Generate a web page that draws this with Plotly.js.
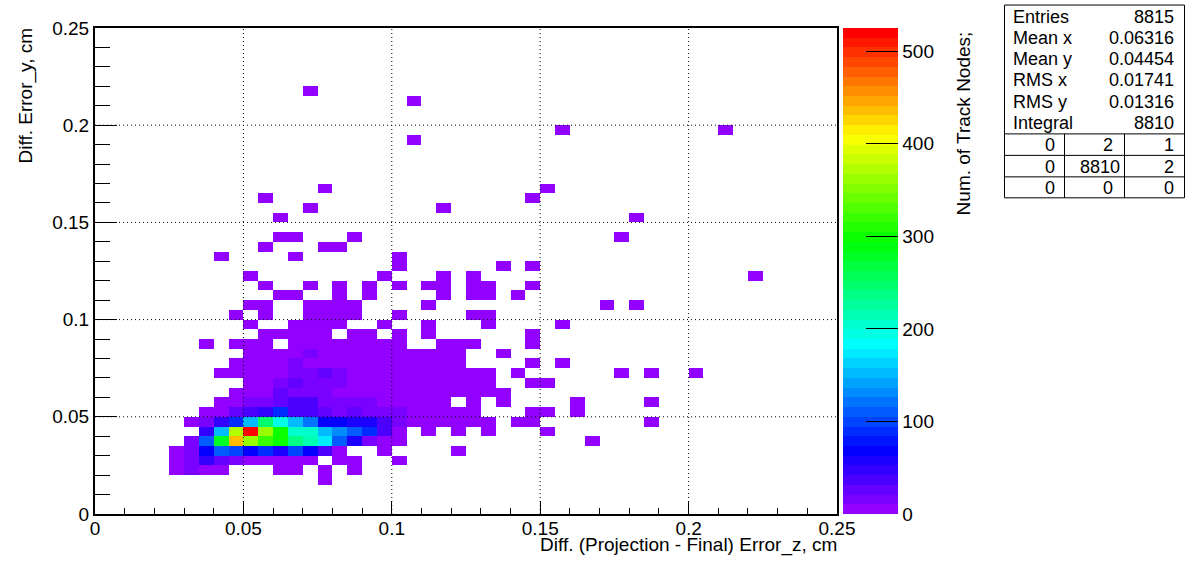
<!DOCTYPE html>
<html>
<head>
<meta charset="utf-8">
<script src="https://cdn.plot.ly/plotly-3.0.1.min.js"></script>
<style>html,body{margin:0;padding:0;background:#fff}#c{width:1196px;height:572px}</style>
</head>
<body>
<div id="c"></div>
<script>
// ---- data ----
const nBins = 50;
const binWidth = 0.005;
const lowCount = 4;
// occupied bins of the lowest colour band: [row, columns...]
const lowRows = [
  [3, 15],
  [4, 5,6,7,8,12,13,15,17],
  [5, 5,6,7,8,9,10,11,12,13,14,16,17,20],
  [6, 5,6,7,8,9,10,11,12,13,14,15,16,19,24],
  [7, 6,7,8,9,10,11,12,13,14,15,16,17,18,19,20,33],
  [8, 7,8,9,10,11,12,13,14,15,16,17,18,19,20,22,24,26,30],
  [9, 6,7,8,9,10,11,12,13,14,15,16,17,18,19,20,21,22,23,24,25,26,28,29,37],
  [10, 7,8,9,10,11,12,13,14,15,16,17,18,19,20,21,22,23,24,25,29,30,32],
  [11, 8,9,10,11,12,13,14,15,16,17,18,19,20,21,22,23,25,27,32,37],
  [12, 9,10,11,12,13,14,15,16,17,18,19,20,21,22,23,24,25,26,27],
  [13, 10,11,12,13,14,15,16,17,18,19,20,21,22,23,24,25,26,29,30],
  [14, 8,9,10,11,12,13,14,15,16,17,18,19,20,21,22,23,24,25,26,28,35,37,40],
  [15, 9,10,11,12,13,14,15,16,17,18,19,20,21,22,23,24,29,31],
  [16, 10,11,12,13,14,15,16,17,18,19,20,21,22,23,24,27],
  [17, 7,9,10,11,13,14,15,16,17,18,19,20,23,24,25,29],
  [18, 11,12,13,14,15,17,18,20,22,29],
  [19, 10,13,14,15,16,19,22,26,31],
  [20, 9,11,14,15,16,17,20,25,26],
  [21, 10,11,14,15,16,17,22,34,36],
  [22, 12,13,16,18,23,25,26,28],
  [23, 11,14,16,18,20,22,23,25,26,29],
  [24, 10,19,23,25,44],
  [25, 20,27,29],
  [26, 8,13,20],
  [27, 11,15,16],
  [28, 12,13,17,35],
  [30, 12,36],
  [31, 14,23],
  [32, 11,29],
  [33, 15,30],
  [38, 21],
  [39, 31,42],
  [42, 21],
  [43, 14]
];
// brighter bins: [row, first column, counts...]
const denseRuns = [
  [4, 6, 15],
  [5, 6, 15,50,25,15],
  [6, 6, 15,68,115,97,68,84,55,97,68,36],
  [7, 6, 15,105,278,438,362,320,295,236,210,175,105,57,15],
  [8, 7, 47,152,373,520,362,295,205,205,152,136,115,90,36],
  [9, 7, 15,47,90,152,247,194,152,120,68,68,57,57,36,15],
  [10, 9, 26,36,47,90,36,36,26,15,26,15,15,15],
  [11, 10, 15,15,26,36,36,15,15,15,15],
  [12, 12, 26,15,15,15],
  [13, 12, 15,26,15,15,15],
  [14, 13, 15,15,26,15],
  [15, 13, 15],
  [16, 14, 15]
];
const xTicks = [0.05, 0.1, 0.15, 0.2];
const yTicks = [0.05, 0.1, 0.15, 0.2];
const statsLabels = ["Entries", "Mean x", "Mean y", "RMS x", "RMS y", "Integral"];
const statsValues = ["8815", "0.06316", "0.04454", "0.01741", "0.01316", "8810"];
const overflowTable = [["0","2","1"], ["0","8810","2"], ["0","0","0"]];
const xTitle = "Diff. (Projection - Final) Error_z, cm";
const yTitle = "Diff. Error_y, cm";
const zTitle = "Num. of Track Nodes;";
const zMax = 525;

// ---- build matrix ----
const z = Array.from({length: nBins}, () => new Array(nBins).fill(null));
lowRows.forEach(r => r.slice(1).forEach(c => { z[r[0]][c] = lowCount; }));
denseRuns.forEach(r => r.slice(2).forEach((v, k) => { z[r[0]][r[1] + k] = v; }));

// ROOT "pretty" palette: 50 steps, hue 280 -> 0 at full saturation
const nBands = 50;
const colorscale = [];
for (let i = 0; i < nBands; i++) {
  const c = `hsl(${280 - (i + 1) * 280 / nBands},100%,50%)`;
  colorscale.push([i / nBands, c], [(i + 1) / nBands, c]);
}

// ---- page geometry helpers ----
const W = 1196, H = 572, L = 95, R = 837, T = 28, B = 514.5;
const px = x => (x - L) / (R - L);
const py = y => (B - y) / (B - T);
const FONT = '"Liberation Sans", Arial, sans-serif';
const note = (text, x, y, anchor, size, extra) => Object.assign({
  text, x: px(x), y: py(y), xref: 'paper', yref: 'paper', xanchor: anchor, yanchor: 'middle',
  showarrow: false, font: {family: FONT, size, color: '#000'}, borderpad: 0
}, extra || {});
const pline = (x0, y0, x1, y1, w) => ({
  type: 'line', xref: 'paper', yref: 'paper', x0: px(x0), y0: py(y0), x1: px(x1), y1: py(y1),
  line: {color: '#000', width: w || 1}
});

const shapes = [];
xTicks.forEach(v => shapes.push({type:'line', xref:'x', yref:'paper', x0:v, x1:v, y0:0, y1:1,
  line:{color:'#000', width:1, dash:'1px,3px'}}));
yTicks.forEach(v => shapes.push({type:'line', xref:'paper', yref:'y', x0:0, x1:1, y0:v, y1:v,
  line:{color:'#000', width:1, dash:'1px,3px'}}));
// colour bar right edge
shapes.push(pline(897.5, T, 897.5, B, 1));
// stats box
const bx0 = 1004.5, bx1 = 1184.5, by0 = 5, by1 = 198;
shapes.push(pline(bx0, by0, bx1, by0), pline(bx1, by0, bx1, by1), pline(bx1, by1, bx0, by1), pline(bx0, by1, bx0, by0));
[134, 155.5, 177].forEach(y => shapes.push(pline(bx0, y, bx1, y)));
[1064.5, 1124.5].forEach(x => shapes.push(pline(x, 134, x, by1)));

const annotations = [
  note(xTitle, 838.5, 546, 'right', 19),
  note(yTitle, 26, 96.5, 'center', 19, {textangle: -90}),
  note(zTitle, 963, 123.5, 'center', 19, {textangle: -90})
];
statsLabels.forEach((t, i) => {
  const y = 16.5 + i * 21.3;
  annotations.push(note(t, 1012, y, 'left', 18), note(statsValues[i], 1175, y, 'right', 18));
});
// right edges of the table cells, as they stand in the reference
const cellRight = [[1055.5, 1114, 1174.5], [1055.5, 1120.5, 1174.5], [1055.5, 1114, 1174.5]];
overflowTable.forEach((row, r) => row.forEach((t, c) => {
  annotations.push(note(t, cellRight[r][c], 145 + r * 21.7, 'right', 18));
}));

const axisBase = {
  range: [0, 0.25], dtick: 0.05, tick0: 0, ticks: 'inside', tickcolor: '#000', tickwidth: 1,
  showline: true, linecolor: '#000', linewidth: 2, mirror: true, showgrid: false, zeroline: false,
  tickfont: {family: FONT, size: 19, color: '#000'}, fixedrange: true, automargin: false
};

Plotly.newPlot('c', [{
  type: 'heatmap',
  z,
  x0: binWidth / 2, dx: binWidth,
  y0: binWidth / 2, dy: binWidth,
  zmin: 0, zmax: zMax,
  zsmooth: false,
  colorscale,
  hoverinfo: 'skip',
  colorbar: {
    x: px(843), xref: 'paper', xanchor: 'left', xpad: 0,
    y: 0, yref: 'paper', yanchor: 'bottom', ypad: 0,
    len: 1, lenmode: 'fraction',
    thickness: 55, thicknessmode: 'pixels',
    outlinewidth: 0, borderwidth: 0,
    tick0: 0, dtick: 100, ticks: 'inside', ticklen: 32, tickwidth: 1, tickcolor: '#000',
    tickfont: {family: FONT, size: 19, color: '#000'}
  }
}], {
  width: W, height: H,
  margin: {l: L, r: W - R, t: T, b: H - B, pad: 0},
  paper_bgcolor: '#fff', plot_bgcolor: '#fff',
  font: {family: FONT, size: 19, color: '#000'},
  xaxis: Object.assign({}, axisBase, {
    ticklen: 13, ticklabelstandoff: -4,
    minor: {dtick: 0.01, ticks: 'inside', ticklen: 6, tickwidth: 1, tickcolor: '#000'}
  }),
  yaxis: Object.assign({}, axisBase, {
    ticklen: 22, ticklabelstandoff: 0,
    minor: {dtick: 0.01, ticks: 'inside', ticklen: 15, tickwidth: 1, tickcolor: '#000'}
  }),
  shapes, annotations
}, {displayModeBar: false, staticPlot: true});
</script>
</body>
</html>
